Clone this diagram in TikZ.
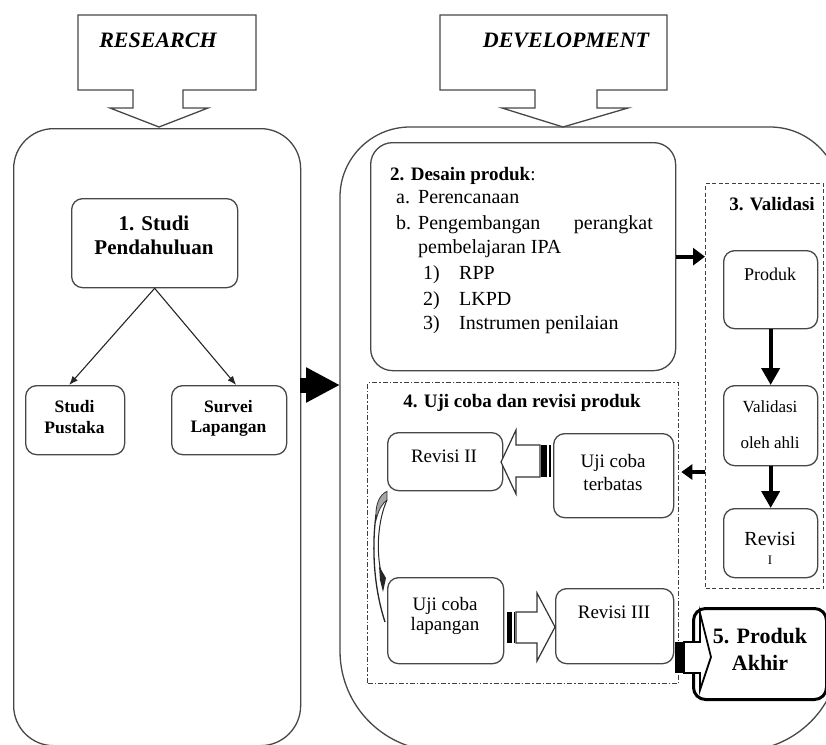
\documentclass[tikz,border=0pt]{standalone}
\usepackage{fontspec}
\setmainfont{Liberation Serif}
\usetikzlibrary{arrows.meta}
\newcommand\myfs[1]{\fontsize{#1}{#1}\selectfont}
\begin{document}
\begin{tikzpicture}[x=1pt,y=-1pt,
  lc/.style={draw=black!72, line width=1.3pt},
  rbox/.style={lc, rounded corners=11pt, fill=white, inner sep=0pt, anchor=north west},
  t/.style={anchor=base, inner sep=0pt},
  tl/.style={anchor=base west, inner sep=0pt},
  thickarr/.style={line width=4pt, -{Triangle[length=17pt,width=18pt]}},
  thinarr/.style={line width=1.1pt, draw=black!85, -{Latex[length=9pt,width=7pt]}},
  hollow/.style={draw=black!80, line width=1.2pt, fill=white, line join=miter}
]
\useasboundingbox (0,0) rectangle (826,744);
\clip (0,0) rectangle (826,744);

% ---------- callouts ----------
\draw[lc, line join=miter] (78,15) -- (256,15) -- (256,90) -- (183,90) -- (183,108) -- (208,108)
   -- (159,127) -- (110,108) -- (133,108) -- (133,90) -- (78,90) -- cycle;
\node[t, font=\myfs{22}\bfseries\itshape] (tR) at (158,47) {RESEARCH};
\draw[lc, line join=miter] (440,15) -- (667,15) -- (667,90) -- (597,90) -- (597,108) -- (628,108)
   -- (563,127) -- (502,108) -- (535,108) -- (535,90) -- (440,90) -- cycle;
\node[t, font=\myfs{22}\bfseries\itshape] (tD) at (566,47) {DEVELOPMENT};

% ---------- big boxes ----------
\node[lc, rounded corners=40pt, inner sep=0pt, anchor=north west, minimum width=287pt, minimum height=617pt] (lbox) at (13,128) {};
\draw[lc] (340,197) arc[start angle=180, end angle=270, radius=70] -- (770,127)
   arc[start angle=270, end angle=360, radius=70] -- (840,651)
   arc[start angle=0, end angle=90, radius=100] -- (440,751)
   arc[start angle=90, end angle=180, radius=100] -- cycle;
\coordinate (lboxE) at (300,385);
\coordinate (rboxW) at (340,385);
\draw[line width=15pt, -{Triangle[length=34pt,width=33pt]}] (lboxE) -- (rboxW);

% ---------- research side ----------
\node[rbox, minimum width=166pt, minimum height=89pt] (sp1) at (71,198) {};
\node[t, font=\myfs{21}\bfseries] (sp1a) at (154,230) {1. Studi};
\node[t, font=\myfs{21}\bfseries] (sp1b) at (154,254) {Pendahuluan};
\node[rbox, minimum width=99pt, minimum height=69pt] (spk) at (25,385) {};
\node[t, font=\myfs{17.5}\bfseries] (spka) at (74.5,412) {Studi};
\node[t, font=\myfs{17.5}\bfseries] (spkb) at (74.5,433) {Pustaka};
\node[rbox, minimum width=115pt, minimum height=69pt] (svl) at (171,385) {};
\node[t, font=\myfs{17.5}\bfseries] (svla) at (228.5,412) {Survei};
\node[t, font=\myfs{17.5}\bfseries] (svlb) at (228.5,432) {Lapangan};
\draw[thinarr] (sp1.south) -- ([xshift=-6pt]spk.north);
\draw[thinarr] (sp1.south) -- ([xshift=7pt]svl.north);

% ---------- desain produk ----------
\node[rbox, rounded corners=22pt, minimum width=305pt, minimum height=228pt] (dp) at (370,142) {};
\begin{scope}[font=\myfs{20}]
\node[tl, font=\myfs{19}\bfseries] (d0) at (390,180) {2. Desain produk\textmd{:}};
\node[tl] (d1a) at (396,203) {a.};
\node[tl] (d1) at (418,203) {Perencanaan};
\node[tl] (d2a) at (396,229) {b.};
\node[tl] (d2) at (418,229) {Pengembangan};
\node[anchor=base east, inner sep=0pt] (d2b) at (653,229) {perangkat};
\node[tl] (d3) at (418,253) {pembelajaran IPA};
\node[tl] (d4a) at (423,279) {1)};
\node[tl] (d4) at (459,279) {RPP};
\node[tl] (d5a) at (423,305) {2)};
\node[tl] (d5) at (459,305) {LKPD};
\node[tl] (d6a) at (423,329) {3)};
\node[tl] (d6) at (459,329) {Instrumen penilaian};
\end{scope}

% ---------- validasi ----------
\node[draw=black!75, line width=1.3pt, dash pattern=on 4pt off 2.5pt, inner sep=0pt, anchor=north west,
      minimum width=118pt, minimum height=405pt] (val) at (705,183) {};
\node[t, font=\myfs{19}\bfseries] (valt) at (772,210) {3. Validasi};
\node[rbox, minimum width=94pt, minimum height=78pt] (prd) at (723,250) {};
\node[t, font=\myfs{18}] (prdt) at (770,280) {Produk};
\node[rbox, minimum width=94pt, minimum height=80pt] (voa) at (723,385) {};
\node[t, font=\myfs{17}] (voaa) at (770,412) {Validasi};
\node[t, font=\myfs{17}] (voab) at (770,448) {oleh ahli};
\node[rbox, minimum width=94pt, minimum height=69pt] (rv1) at (723,508) {};
\node[t, font=\myfs{20}] (rv1a) at (770,545) {Revisi};
\node[t, font=\myfs{13}] (rv1b) at (770,564) {I};
\draw[thickarr] (prd.south) -- (voa.north);
\draw[thickarr] (voa.south) -- (rv1.north);
\draw[line width=4pt, -{Triangle[length=12pt,width=17pt]}] (dp.east) -- (val.west |- dp.east);

% ---------- uji coba ----------
\node[draw=black!75, line width=1.2pt, dash pattern=on 5pt off 2pt on 1.5pt off 2pt, inner sep=0pt,
      anchor=north west, minimum width=311pt, minimum height=301pt] (uji) at (367,382) {};
\node[t, font=\myfs{19}\bfseries] (ujit) at (522,407) {4. Uji coba dan revisi produk};
\node[rbox, minimum width=115pt, minimum height=58pt] (rv2) at (387,432) {};
\node[t, font=\myfs{19}] (rv2t) at (444,462) {Revisi II};
\node[rbox, minimum width=120pt, minimum height=84pt] (uct) at (553,433) {};
\node[t, font=\myfs{19}] (ucta) at (613,467) {Uji coba};
\node[t, font=\myfs{19}] (uctb) at (613,490) {terbatas};
\node[rbox, minimum width=116pt, minimum height=86pt] (ucl) at (387,577) {};
\node[t, font=\myfs{19}] (ucla) at (445,610) {Uji coba};
\node[t, font=\myfs{19}] (uclb) at (445,630) {lapangan};
\node[rbox, minimum width=118pt, minimum height=75pt] (rv3) at (555,588) {};
\node[t, font=\myfs{19}] (rv3t) at (614,618) {Revisi III};

\coordinate (c472) at (0,472);
\draw[line width=4pt, -{Triangle[length=11pt,width=15pt]}] (val.west |- c472) -- ([xshift=7pt]uct.east |- c472);

% striped hollow arrow uct -> rv2
\fill[black] (541,445) rectangle (547,477);
\fill[black] (549,445) rectangle (551,477);
\draw[hollow] (501,462) -- (516,430) -- (516,445) -- (540,445) -- (540,477) -- (516,477) -- (516,494) -- cycle;

% striped hollow arrow ucl -> rv3
\fill[black] (507,612) rectangle (512,643);
\fill[black] (513.5,612) rectangle (515,643);
\draw[hollow] (516,612) -- (537,612) -- (537,593) -- (555,627) -- (537,661) -- (537,643) -- (516,643) -- cycle;

% curved arrow rv2 -> ucl
\path[fill=black!35, draw=black!80, line width=0.8pt] (rv2.south west) .. controls (379,495) and (375,505) .. (376,520)
   .. controls (379,508) and (383,503) .. (387,500) -- cycle;
\draw[black!85, line width=1.3pt] (376,515) .. controls (372,545) and (373,585) .. (385,622);
\draw[black!85, line width=1pt] (387,500) .. controls (378,520) and (376,550) .. (381,572);
\fill[black!85] (379,566) -- (386,578) -- (383,592) -- (380,580) -- cycle;

% ---------- produk akhir ----------
\node[draw=black, line width=3pt, rounded corners=12pt, fill=white, inner sep=0pt, anchor=north west,
      minimum width=133pt, minimum height=91pt] (pa) at (692,607) {};
\node[t, font=\myfs{22}\bfseries] (paa) at (760,643) {5. Produk};
\node[t, font=\myfs{22}\bfseries] (pab) at (760,670) {Akhir};
\fill[black] (675,642) rectangle (684,673);
\draw[draw=black, line width=1.8pt, fill=white, line join=miter] (684,642) -- (700,642) -- (700,613) -- (711,657)
   -- (700,690) -- (700,673) -- (684,673) -- cycle;
\end{tikzpicture}
\end{document}
